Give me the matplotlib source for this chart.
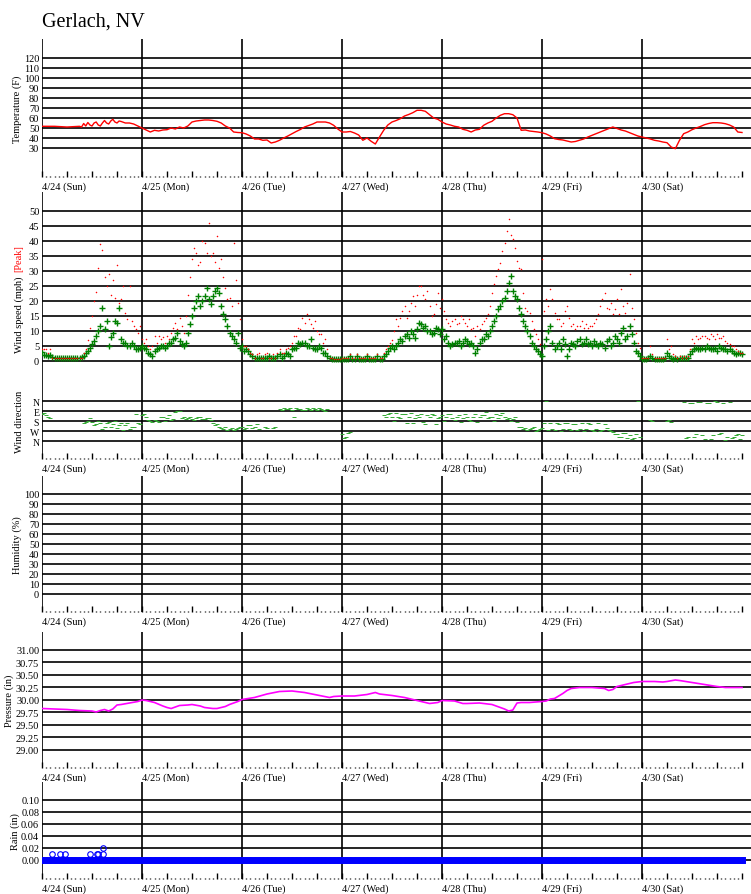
import numpy as np
import matplotlib
matplotlib.use('Agg')
import matplotlib.pyplot as plt

plt.rcParams['font.family'] = ['Liberation Serif', 'DejaVu Serif']

nan = np.nan

# x axis: hours since 4/24 00:00
day_labels = ['4/24 (Sun)', '4/25 (Mon)', '4/26 (Tue)', '4/27 (Wed)',
              '4/28 (Thu)', '4/29 (Fri)', '4/30 (Sat)']

# Temperature (F)
temp_hours = [0, 3, 6, 9, 9.5, 10, 10.5, 11, 11.5, 12, 12.5, 13, 13.5, 14, 14.5, 15, 15.5, 16, 16.5, 17, 17.5,
              18, 18.5, 19, 20, 21, 22, 23, 24,
              25, 26, 27, 28, 29, 30, 31, 32, 33, 34, 35, 36, 37, 38, 39, 40, 41, 42, 43, 44, 45, 46, 47, 48,
              49, 50, 51, 52, 53, 54, 55, 56, 57, 58, 59, 60, 61, 62, 63, 64, 65, 66, 67, 68, 69, 70, 71, 72,
              73, 74, 75, 76, 77, 78, 79, 80, 81, 82, 83, 84, 85, 86, 87, 88, 89, 90, 91, 92, 93, 94, 95, 96,
              97, 98, 99, 100, 101, 102, 103, 104, 105, 106, 107, 108, 109, 110, 111, 112, 113, 114, 115, 116,
              117, 118, 119, 120,
              121, 122, 123, 124, 125, 126, 127, 128, 129, 130, 131, 132, 133, 134, 135, 136, 137, 138, 139,
              140, 141, 142, 143, 144,
              145, 146, 147, 148, 149, 150, 151, 152, 153, 154, 155, 156, 157, 158, 159, 160, 161, 162, 163,
              164, 165, 166, 167, 168]
temp_vals = [51.7, 51.7, 51, 51.7, 51, 54.5, 52, 55.5, 53, 52, 55, 56, 53, 52, 55, 57.5, 55, 54, 57, 58.7, 56,
             55, 57, 56.5, 55, 55, 54, 52, 50,
             48, 46, 47.7, 47, 48, 48.3, 50, 49, 51, 50, 52, 56, 57, 57.5, 58, 58, 57.5, 56.7, 55, 52, 50, 46,
             45.5, 45.3,
             44, 42, 39, 39, 37.7, 38, 35, 36, 37.7, 40, 42, 44.3, 46.5, 48.5, 51, 52.5, 54, 56, 56, 56, 55,
             52.7, 49, 46,
             46, 46.5, 45, 43, 37.7, 40, 36.7, 34, 41, 47.7, 53, 56, 57.5, 59.3, 62, 63.5, 65.3, 67.7, 67.7,
             66.7, 63.3, 60, 58.7, 56,
             54, 53, 51.7, 51, 48.7, 47.7, 46, 48, 48.7, 52.7, 55, 56.7, 60, 62.7, 64.3, 64.3, 63.3, 60, 47.7,
             48, 47, 46.5, 46, 45.3,
             44, 42, 39.3, 38.5, 38, 37, 36, 36.5, 37.7, 39, 41, 42.7, 44.5, 46, 47.7, 49.3, 51, 49.5, 48, 47,
             45.3, 43.5, 42, 41,
             40, 39, 37.7, 37, 36, 35.3, 31, 29.3, 37.7, 44.3, 46, 48.3, 50, 51.5, 53.3, 54.5, 55.3, 55.3, 55,
             54.3, 53, 51, 46, 45.5]

# Wind speed (mph): readings on the hour ...
wind_hours = np.arange(0, 169)
wind_avg = [3, 2, 2, 1, 1, 1, 1, 1, 1, 1, 1.7, 3.3, 5.5, 8.3, 11.7, 10.5, 5, 9.4, 12.8, 7.2, 6.1, 5, 5, 3.9,
            5, 3.9, 2.2, 3.3, 4.4, 5, 5, 6.1, 7.8, 6.7, 5, 9.4, 15, 20, 18.3, 21.7, 20.5, 21.7, 24.4, 18.3,
            13.9, 9.4, 7.2, 9.4,
            5, 3.9, 2.2, 1.1, 1.1, 1.1, 1.1, 1.1, 1.1, 2.2, 1.7, 2.2, 3.9, 4.4, 5.6, 6.1, 5, 4.4, 3.9, 4.4,
            2.8, 1.1, 0.8, 0.8,
            0.8, 0.8, 1.7, 0.8, 0.8, 0.8, 1.7, 0.8, 0.8, 0.8, 1.7, 3.3, 5, 5, 7.2, 8.3, 7.8, 8.9, 10.5, 12.2,
            11.7, 10, 9.4, 10.5,
            10.5, 8.3, 5, 6.1, 6.7, 6.1, 6.7, 6.1, 2.8, 6.1, 7.2, 8.3, 11.7, 15, 18.3, 21, 26, 23.3, 20.5,
            15.6, 11.7, 8.3, 5, 3.3,
            1.7, 7.2, 11.7, 3.9, 6.1, 7.2, 1.7, 6.1, 5, 7.2, 6.1, 5.6, 5, 5.6, 6.1, 4.4, 7.2, 6.1, 7.2, 9.4,
            7.2, 11.7, 6.1, 2.8,
            0.8, 0.8, 1.7, 0.8, 0.8, 0.8, 2.8, 1.1, 1.1, 1.1, 1.1, 1.1, 3.3, 4.4, 3.9, 3.9, 4.4, 3.9, 3.3,
            4.4, 3.9, 3.9, 2.8, 2.6, 2.2]
wind_peak = [4, 4, 3.9, 1, 1, 1, 1, 1, 1, 1, 2.8, 7, 15, 23, 39, 28, 29, 27, 32, 20.5, 16, 25, 11.7, 9.4,
             7.2, 7.2, 3.9, 8.3, 8.3, 8, 8.3, 9.4, 12.8, 14.4, 9.4, 22, 34, 36, 33, 39.4, 46, 36, 41.7, 34,
             24.4, 21, 39.4, 19.4,
             7.2, 5, 2.8, 1.1, 2.8, 1.1, 2.8, 1.1, 1.1, 3.9, 2.8, 4.4, 6.1, 8.3, 10.5, 12.8, 13.9, 11, 10,
             8.9, 7.2, 1.1, 0.8, 0.8,
             1, 1, 2.2, 1, 1, 1, 2.2, 1, 1, 1, 2.8, 5, 7, 13.9, 14.4, 18.3, 16.7, 21.7, 22, 25, 20.5, 18.3,
             15.6, 22.8,
             20.5, 13.9, 11.7, 13.9, 12.8, 13.9, 11.7, 10.5, 8.3, 10.5, 13.3, 15.6, 22.8, 28.3, 32.8, 39.4,
             47.2, 40.6, 33.3, 30.6, 17.8, 16, 10.5, 7.2,
             34, 20.5, 24, 16, 13.9, 12.8, 18.3, 11.7, 10.5, 11.7, 11, 11, 11.7, 13.9, 18.3, 22.8, 17.2, 15.6,
             20.5, 24, 16, 29, 13.9, 6.1,
             1.1, 1.1, 5, 1.1, 1.1, 1.1, 7.2, 5, 1.6, 1.6, 1.6, 1.6, 7.2, 8.3, 7.8, 8.3, 7.2, 8.3, 8.9, 7.8,
             6.7, 5.6, 5, 3.3, 2.8]

# ... and on the half hour
half_hours = np.arange(0, 168) + 0.5
wind_avg_half = [2, 1.5, 1.2, 1, 1, 1, 1, 1, 1, 1.2, 2.5, 4.4, 6.7, 10, 17.8, 13.3, 8, 13.3, 17.8, 6.1, 5,
                 6.1, 3.9, 4.4,
                 4.4, 2.8, 1.7, 3.9, 5, 4.4, 6.1, 7.2, 9.4, 5.6, 6.1, 12.2, 17.8, 21.7, 20, 24.4, 18.9, 23.3,
                 22.8, 15.6, 11.7, 8.3, 6.1, 4.4,
                 3.3, 3.3, 1.7, 1.1, 1.1, 1.1, 1.7, 1.1, 1.7, 1.1, 2.8, 1.7, 4.4, 6.1, 6.1, 5, 7.2, 3.9, 5,
                 2.8, 1.7, 0.8, 0.8, 0.8,
                 0.8, 0.8, 0.8, 1.7, 0.8, 0.8, 0.8, 0.8, 1.7, 0.8, 2.2, 4.4, 3.9, 6.1, 6.7, 8.9, 10, 7.8,
                 12.8, 11.1, 10, 8.9, 11.1, 8.9,
                 7.2, 6.1, 5.6, 6.1, 5, 7.2, 5.6, 5, 3.9, 7.2, 8.9, 10, 13.3, 17.2, 20, 23.3, 28.3, 21.7,
                 17.8, 13.3, 10, 6.1, 3.9, 2.2,
                 5, 10, 6.1, 5, 3.9, 5.6, 3.9, 5.6, 6.7, 5.6, 7.2, 6.1, 6.7, 5, 5.6, 6.7, 5, 8.3, 6.1, 11.1,
                 8.3, 8.9, 3.3, 1.7,
                 0.8, 1.1, 1.1, 0.8, 0.8, 1.1, 1.7, 0.8, 0.8, 1.1, 1.1, 2.2, 3.9, 3.9, 4.4, 5, 3.9, 4.4, 5,
                 3.9, 3.3, 3.3, 2.2, 2.8]
wind_peak_half = [3.9, 2.8, 1, 1, 1, 1, 1, 1, 1, 1, 3.9, 11, 20, 31, 37, 25, 22, 21, 19.4, 25, 13.9, 13.3,
                  10.5, 11.7,
                  6.1, 5, 5, 6.1, 7.2, 6.1, 7.2, 11, 10.5, 11.7, 15, 28, 37.8, 32, 40, 36, 35, 33, 31, 28,
                  20.5, 18.3, 27, 13.9,
                  5, 3.9, 2.2, 2.2, 1.1, 2.2, 1.1, 2.2, 2.8, 2.8, 3.9, 5, 8.3, 11, 14.4, 15.6, 12.2, 13.3,
                  8.9, 6.1, 3.9, 1.1, 0.8, 0.8,
                  1, 1, 1, 2.2, 1, 1, 1, 1, 2.2, 1, 3.9, 6.1, 10, 11.7, 16.7, 14.4, 19.4, 18.3, 25, 22, 23.3,
                  15, 19, 17.8,
                  16.7, 12.8, 13.3, 12.2, 15, 12.8, 13.9, 11, 11.7, 12.2, 14.4, 18.3, 25.6, 30.6, 36.7, 43.3,
                  42, 37.8, 31, 22.8, 16.7, 13.3, 8.9, 5.6,
                  16.7, 18.3, 20.5, 13.9, 11.7, 16.7, 14.4, 12.2, 11.7, 13.3, 12.2, 11.7, 12.8, 15.6, 20.5,
                  17.8, 19.4, 17.2, 15.6, 18.3, 19.4, 17.8, 9.4, 4.4,
                  1.1, 1.1, 2.2, 1.1, 1.1, 1.1, 3.9, 2.2, 1.1, 1.1, 1.1, 3.9, 6.1, 7.2, 8.3, 7.8, 8.9, 7.2,
                  7.8, 8.3, 6.1, 5, 3.9, 2.8]

# Wind direction (degrees, N=0 at top, N=360 at bottom), on the hour ...
wind_dir = [120, 130, 150, nan, nan, nan, nan, nan, nan, nan, 200, 180, 190, 210, 200, 230, 190, 210, 240, 200,
            220, 250, 230, 200,
            130, 140, 180, 170, 190, 140, 150, 170, 100, 90, 140, 150, 160, 150, 140, 160, 150, 200, 210, 240,
            230, 250, 260, 240,
            230, 240, 220, 230, 250, nan, 240, nan, 230, 70, 60, 70, 80, 60, 70, 80, 70, 60, 80, 70, 90, nan,
            nan, nan,
            300, 320, 280, nan, nan, nan, nan, nan, nan, nan, 130, 120, 140, 110, 150, 120, 140, 200, 130, 120,
            210, 140, 130, 150,
            130, 140, 120, 170, 130, 150, 140, 180, 120, 140, 130, 150, 140, 120, 130, 140, 150, 160, 190, 230,
            240, 250, 230, 260,
            240, 0, 200, 260, 210, 250, 200, 260, 210, 250, 270, 200, 260, 250, 270, 210, 260, 280, 300, 320,
            290, 310, 330, 0,
            nan, nan, 170, nan, nan, nan, 180, 190, nan, nan, 10, 320, 15, 300, 5, 340, 20, 310, 10, 290, 350,
            5, 320, 300, 310]
# ... and on the half hour
wind_dir_half = [110, 140, nan, nan, nan, nan, nan, nan, nan, nan, 190, 150, 220, 180, 250, 200, 230, 180,
                 220, 260, 200, 230, 120, 210,
                 120, 170, 190, 180, 140, 180, 130, 160, 90, 150, 160, 140, 170, 140, 160, 150, 170, 220, 230,
                 250, 260, 240, 250, 230,
                 250, 220, 240, 210, nan, 230, nan, 240, nan, 80, 70, 60, 140, 70, 80, 60, 80, 70, 60, 80, 70,
                 nan, nan, nan,
                 330, 290, nan, nan, nan, nan, nan, nan, nan, nan, 140, 110, 180, 140, 120, 200, 110, 150, 140,
                 190, 130, 120, 210, 140,
                 180, 120, 150, 140, 190, 120, 170, 140, 190, 130, 100, 140, 180, 150, 110, 160, 180, 140, 230,
                 250, 260, 240, 270, 250,
                 200, 260, 250, 200, 270, 200, 250, 210, 260, 200, 250, 210, 270, 200, 260, 240, 270, 300, 320,
                 290, 330, 340, 300, 320,
                 nan, nan, 180, nan, nan, nan, 170, nan, nan, nan, 330, 15, 320, 10, 310, 20, 340, 0, 300, 15,
                 320, 330, 310, 340]

# Pressure (in)
pres_hours = [0, 3, 6, 9, 12, 13, 14, 15, 16, 17, 18, 19, 21, 23, 24,
              25, 27, 29, 30, 31, 32, 33, 35, 36, 38, 39, 41, 42, 44, 45, 47, 48,
              51, 54, 57, 60, 63, 66, 69, 70, 72,
              75, 78, 80, 81, 84, 87, 90, 93, 95, 96,
              99, 101, 102, 105, 108, 111, 112, 113, 114, 115, 117, 120,
              121, 122, 123, 125, 126, 127, 129, 132, 135, 136, 137, 138, 140, 142, 144,
              147, 149, 150, 152, 153, 156, 159, 162, 164, 166, 167, 168]
pres_vals = [29.83, 29.82, 29.81, 29.79, 29.78, 29.76, 29.79, 29.81, 29.78, 29.82, 29.90, 29.91, 29.94, 29.97,
             30.00,
             29.99, 29.95, 29.88, 29.85, 29.83, 29.86, 29.89, 29.90, 29.91, 29.88, 29.85, 29.83, 29.83, 29.87,
             29.91, 29.97, 30.01,
             30.05, 30.12, 30.17, 30.18, 30.15, 30.10, 30.05, 30.07, 30.08,
             30.08, 30.11, 30.15, 30.12, 30.09, 30.05, 29.99, 29.93, 29.95, 29.99,
             29.98, 29.93, 29.93, 29.94, 29.91, 29.82, 29.78, 29.80, 29.94, 29.95, 29.95, 29.97,
             29.98, 30.02, 30.03, 30.13, 30.19, 30.23, 30.25, 30.25, 30.23, 30.19, 30.21, 30.27, 30.31, 30.35,
             30.37,
             30.37, 30.36, 30.37, 30.40, 30.39, 30.35, 30.31, 30.27, 30.25, 30.25, 30.25, 30.25]

# Rain (in): hourly readings are zero, except these
rain_zero = [0.0] * 169
rain_hours = [2.3, 4.3, 5.5, 11.4, 13.1, 13.5, 14.6, 14.7]
rain_vals = [0.01, 0.01, 0.01, 0.01, 0.01, 0.01, 0.01, 0.02]

temp_ticks = [30, 40, 50, 60, 70, 80, 90, 100, 110, 120]
wind_ticks = [0, 5, 10, 15, 20, 25, 30, 35, 40, 45, 50]
dir_ticks = [0, 90, 180, 270, 360]
dir_labels = ['N', 'E', 'S', 'W', 'N']
hum_ticks = [0, 10, 20, 30, 40, 50, 60, 70, 80, 90, 100]
pres_ticks = [29.00, 29.25, 29.50, 29.75, 30.00, 30.25, 30.50, 30.75, 31.00]
rain_ticks = [0.00, 0.02, 0.04, 0.06, 0.08, 0.10]

W, H = 751, 895
fig = plt.figure(figsize=(W / 100, H / 100), dpi=100)
X0 = 42
XMAX = (W - X0) / 100 * 24  # hours shown
FS = 7.5


def panel(top, bottom, ylim, ticks, labels, ylabel=None, xaxis=True):
    ax = fig.add_axes([X0 / W, 1 - bottom / H, (W - X0) / W, (bottom - top) / H])
    for s in ax.spines.values():
        s.set_visible(False)
    ax.set_xlim(0, XMAX)
    ax.set_ylim(*ylim)
    ax.set_yticks(ticks)
    ax.set_yticklabels(labels)
    ax.tick_params(axis='y', length=0, pad=2, labelsize=FS)
    for v in ticks:
        ax.axhline(v, color='black', lw=1.2, zorder=1)
    for d in range(7):
        ax.axvline(d * 24, color='black', lw=1.2, zorder=1)
    if xaxis:
        major = np.arange(0, 169, 6)
        ax.set_xticks(major)
        ax.set_xticklabels([day_labels[int(m // 24)] if m % 24 == 0 and m < 168 else '' for m in major],
                           ha='left')
        ax.set_xticks(np.arange(0, 169, 1), minor=True)
        ax.tick_params(axis='x', which='major', direction='in', length=4, width=1, pad=3, labelsize=FS)
        ax.tick_params(axis='x', which='minor', direction='in', length=1, width=1)
    else:
        ax.set_xticks([])
    if ylabel:
        ax.set_ylabel(ylabel, fontsize=FS, labelpad=1)
    return ax


# Temperature
ax = panel(40, 178, (1, 139), temp_ticks, [str(t) for t in temp_ticks], 'Temperature (F)')
ax.plot(temp_hours, temp_vals, color='red', lw=1, zorder=3)

# Wind speed
ax = panel(193, 380, (-6, 56.33), wind_ticks, [str(t) for t in wind_ticks], xaxis=False)
ax.plot(wind_hours, wind_avg, '+', color='green', ms=4.5, mew=1, zorder=3)
ax.plot(half_hours, wind_avg_half, '+', color='green', ms=4.5, mew=1, zorder=3)
ax.plot(wind_hours, wind_peak, '.', color='red', ms=2.2, mew=0, zorder=4)
ax.plot(half_hours, wind_peak_half, '.', color='red', ms=2.2, mew=0, zorder=4)

# Wind direction
ax = panel(380, 460, (522, -198), dir_ticks, dir_labels)
ax.tick_params(axis='y', labelsize=7)
ax.plot(wind_hours, wind_dir, '_', color='#33aa33', ms=2.5, mew=0.7, zorder=3)
ax.plot(half_hours, wind_dir_half, '_', color='#33aa33', ms=2.5, mew=0.7, zorder=3)

# Humidity
ax = panel(477, 613, (-18, 118), hum_ticks, [str(t) for t in hum_ticks], 'Humidity (%)')

# Pressure
ax = panel(633, 769, (28.64, 31.36), pres_ticks, ['%.2f' % p for p in pres_ticks], 'Pressure (in)')
ax.plot(pres_hours, pres_vals, color='magenta', lw=1.2, zorder=3)

# Rain
ax = panel(783, 880, (-0.032, 0.1295), rain_ticks, ['%.2f' % r for r in rain_ticks], 'Rain (in)')
ax.plot(wind_hours, rain_zero, '-', color='blue', lw=5, zorder=3)
ax.plot(wind_hours, rain_zero, 'o', mfc='none', mec='blue', ms=4, mew=0.8, zorder=3)
ax.plot(rain_hours, rain_vals, 'o', mfc='none', mec='blue', ms=4, mew=0.8, zorder=3)

# title and wind labels
fig.text(X0 / W, 1 - 27 / H, 'Gerlach, NV', fontsize=14.5, va='baseline', ha='left')
lx = 19 / W
fig.text(lx, 1 - 353 / H, 'Wind speed (mph)', rotation=90, ha='center', va='bottom', fontsize=FS)
fig.text(lx, 1 - 272 / H, '[Peak]', rotation=90, ha='center', va='bottom', fontsize=FS, color='red')
fig.text(lx, 1 - 422 / H, 'Wind direction', rotation=90, ha='center', va='center', fontsize=FS)

fig.savefig('out.png', dpi=100)
